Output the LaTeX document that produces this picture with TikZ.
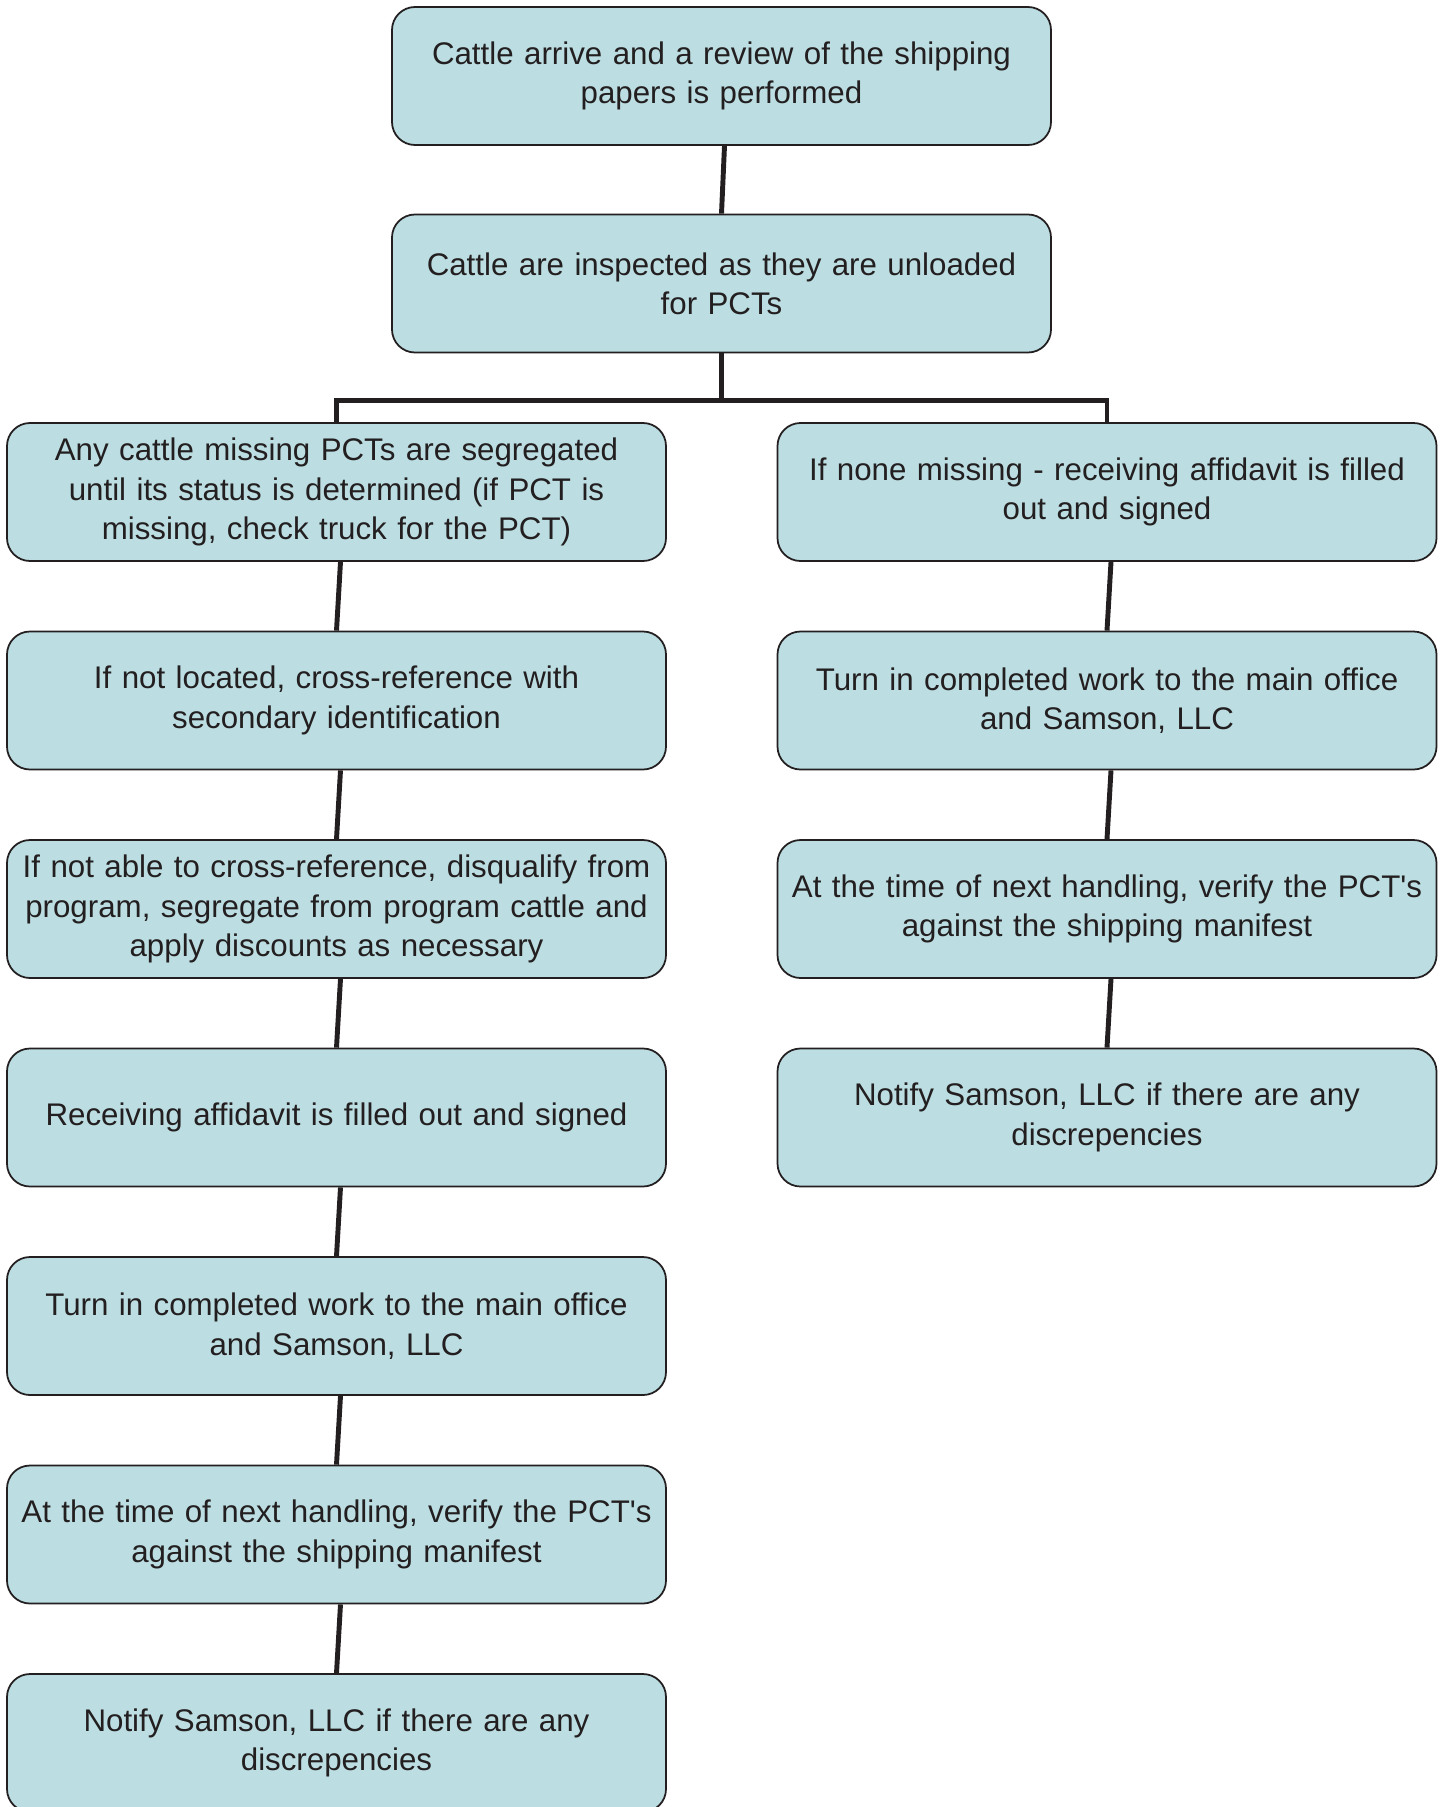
\documentclass[tikz,border=0pt]{standalone}
\usepackage{fontspec}
\setmainfont{Liberation Sans}
\usetikzlibrary{positioning, calc}

\definecolor{boxfill}{RGB}{188,222,226}
\definecolor{inkdark}{RGB}{35,31,32}

\begin{document}
\begin{tikzpicture}[
    link/.style={
        draw=inkdark,
        line width=1.4pt
    },
    proc/.style={
        rectangle,
        fill=boxfill,
        draw=inkdark,
        line width=0.5pt,
        rounded corners=2.3mm,
        minimum width=6.59cm,
        minimum height=1.38cm,
        inner xsep=0em,
        text width=6.5cm,
        align=center,
        text=inkdark,
        font=\fontsize{8.9}{11.2}\selectfont
    }
]
    \useasboundingbox (0,0) rectangle (14.48,-18.07);

    % Top of the chart
    \node[proc] (arrive) at (7.215,-0.76) {Cattle arrive and a review of the shipping\\papers is performed};
    \node[proc] (inspect) at (7.215,-2.835) {Cattle are inspected as they are unloaded\\for PCTs};
    \draw[link] ([xshift=0.3mm]arrive.south) -- (inspect.north);

    % Left branch
    \node[proc] (missing) at (3.365,-4.92) {Any cattle missing PCTs are segregated\\until its status is determined (if PCT is\\missing, check truck for the PCT)};
    \node[proc] (crossref) at (3.365,-7.005) {If not located, cross-reference with\\secondary identification};
    \node[proc] (disqual) at (3.365,-9.09) {If not able to cross-reference, disqualify from\\program, segregate from program cattle and\\apply discounts as necessary};
    \node[proc] (affidL) at (3.365,-11.175) {Receiving affidavit is filled out and signed};
    \node[proc] (officeL) at (3.365,-13.26) {Turn in completed work to the main office\\and Samson, LLC};
    \node[proc] (verifyL) at (3.365,-15.345) {At the time of next handling, verify the PCT\textquotesingle s\\against the shipping manifest};
    \node[proc] (notifyL) at (3.365,-17.43) {Notify Samson, LLC if there are any\\discrepencies};

    % Right branch
    \node[proc] (nonemiss) at (11.07,-4.92) {If none missing - receiving affidavit is filled\\out and signed};
    \node[proc] (officeR) at (11.07,-7.005) {Turn in completed work to the main office\\and Samson, LLC};
    \node[proc] (verifyR) at (11.07,-9.09) {At the time of next handling, verify the PCT\textquotesingle s\\against the shipping manifest};
    \node[proc] (notifyR) at (11.07,-11.175) {Notify Samson, LLC if there are any\\discrepencies};

    % Split
    \draw[link] (inspect.south) -- ++(0,-0.47) coordinate (split);
    \draw[link] (split) -| (missing.north);
    \draw[link] (split) -| (nonemiss.north);

    \foreach \a/\b in {missing/crossref, crossref/disqual, disqual/affidL, affidL/officeL, officeL/verifyL, verifyL/notifyL, nonemiss/officeR, officeR/verifyR, verifyR/notifyR}
        \draw[link] ([xshift=0.4mm]\a.south) -- (\b.north);

\end{tikzpicture}
\end{document}
